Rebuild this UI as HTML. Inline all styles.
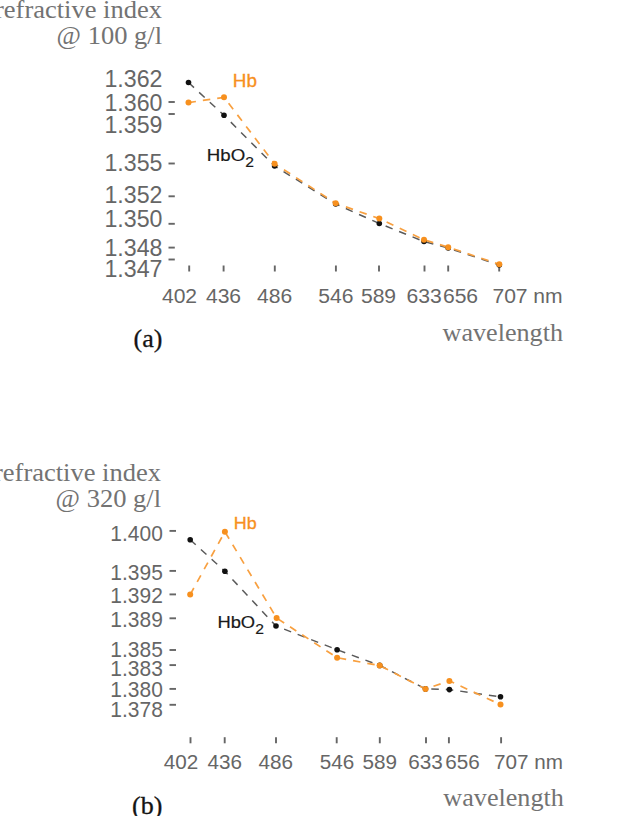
<!DOCTYPE html>
<html><head><meta charset="utf-8"><title>Refractive index vs wavelength</title>
<style>html,body{margin:0;padding:0;background:#fff;}svg{display:block;}</style></head>
<body>
<svg width="630" height="816" viewBox="0 0 630 816">
<rect width="630" height="816" fill="#fff"/>
<text transform="translate(162,17.5) scale(1.04,1)" font-family="'Liberation Serif', 'Times New Roman', serif" font-size="25.5" fill="#737373" text-anchor="end">refractive index</text>
<text transform="translate(162,44.3) scale(1.04,1)" font-family="'Liberation Serif', 'Times New Roman', serif" font-size="25.5" fill="#737373" text-anchor="end">@ 100 g/l</text>
<text transform="translate(162.5,86.5) scale(1.0,1)" font-family="'Liberation Sans', Arial, sans-serif" font-size="23.2" fill="#666666" text-anchor="end">1.362</text>
<text transform="translate(162.5,110.8) scale(1.0,1)" font-family="'Liberation Sans', Arial, sans-serif" font-size="23.2" fill="#666666" text-anchor="end">1.360</text>
<text transform="translate(162.5,132.5) scale(1.0,1)" font-family="'Liberation Sans', Arial, sans-serif" font-size="23.2" fill="#666666" text-anchor="end">1.359</text>
<text transform="translate(162.5,171.2) scale(1.0,1)" font-family="'Liberation Sans', Arial, sans-serif" font-size="23.2" fill="#666666" text-anchor="end">1.355</text>
<text transform="translate(162.5,202.5) scale(1.0,1)" font-family="'Liberation Sans', Arial, sans-serif" font-size="23.2" fill="#666666" text-anchor="end">1.352</text>
<text transform="translate(162.5,227.1) scale(1.0,1)" font-family="'Liberation Sans', Arial, sans-serif" font-size="23.2" fill="#666666" text-anchor="end">1.350</text>
<text transform="translate(162.5,256.2) scale(1.0,1)" font-family="'Liberation Sans', Arial, sans-serif" font-size="23.2" fill="#666666" text-anchor="end">1.348</text>
<text transform="translate(162.5,276.8) scale(1.0,1)" font-family="'Liberation Sans', Arial, sans-serif" font-size="23.2" fill="#666666" text-anchor="end">1.347</text>
<line x1="168.5" x2="174.8" y1="102" y2="102" stroke="#666666" stroke-width="1.9"/>
<line x1="168.5" x2="174.8" y1="114" y2="114" stroke="#666666" stroke-width="1.9"/>
<line x1="168.5" x2="174.8" y1="163.5" y2="163.5" stroke="#666666" stroke-width="1.9"/>
<line x1="168.5" x2="174.8" y1="196.3" y2="196.3" stroke="#666666" stroke-width="1.9"/>
<line x1="168.5" x2="174.8" y1="223.8" y2="223.8" stroke="#666666" stroke-width="1.9"/>
<line x1="168.5" x2="174.8" y1="247.6" y2="247.6" stroke="#666666" stroke-width="1.9"/>
<line x1="168.5" x2="174.8" y1="259.5" y2="259.5" stroke="#666666" stroke-width="1.9"/>
<line x1="189.2" x2="189.2" y1="265.5" y2="271.5" stroke="#666666" stroke-width="1.9"/>
<line x1="223.6" x2="223.6" y1="265.5" y2="271.5" stroke="#666666" stroke-width="1.9"/>
<line x1="274.8" x2="274.8" y1="265.5" y2="271.5" stroke="#666666" stroke-width="1.9"/>
<line x1="335.9" x2="335.9" y1="265.5" y2="271.5" stroke="#666666" stroke-width="1.9"/>
<line x1="379" x2="379" y1="265.5" y2="271.5" stroke="#666666" stroke-width="1.9"/>
<line x1="424.5" x2="424.5" y1="265.5" y2="271.5" stroke="#666666" stroke-width="1.9"/>
<line x1="448.2" x2="448.2" y1="265.5" y2="271.5" stroke="#666666" stroke-width="1.9"/>
<line x1="499.2" x2="499.2" y1="265.5" y2="271.5" stroke="#666666" stroke-width="1.9"/>
<text transform="translate(179.5,303.0) scale(1.03,1)" font-family="'Liberation Sans', Arial, sans-serif" font-size="20.5" fill="#666666" text-anchor="middle">402</text>
<text transform="translate(223.5,303.0) scale(1.03,1)" font-family="'Liberation Sans', Arial, sans-serif" font-size="20.5" fill="#666666" text-anchor="middle">436</text>
<text transform="translate(274.6,303.0) scale(1.03,1)" font-family="'Liberation Sans', Arial, sans-serif" font-size="20.5" fill="#666666" text-anchor="middle">486</text>
<text transform="translate(335.8,303.0) scale(1.03,1)" font-family="'Liberation Sans', Arial, sans-serif" font-size="20.5" fill="#666666" text-anchor="middle">546</text>
<text transform="translate(378.5,303.0) scale(1.03,1)" font-family="'Liberation Sans', Arial, sans-serif" font-size="20.5" fill="#666666" text-anchor="middle">589</text>
<text transform="translate(424.2,303.0) scale(1.03,1)" font-family="'Liberation Sans', Arial, sans-serif" font-size="20.5" fill="#666666" text-anchor="middle">633</text>
<text transform="translate(460.5,303.0) scale(1.03,1)" font-family="'Liberation Sans', Arial, sans-serif" font-size="20.5" fill="#666666" text-anchor="middle">656</text>
<text transform="translate(510,303.0) scale(1.03,1)" font-family="'Liberation Sans', Arial, sans-serif" font-size="20.5" fill="#666666" text-anchor="middle">707</text>
<text transform="translate(533.3,303.0) scale(1.03,1)" font-family="'Liberation Sans', Arial, sans-serif" font-size="20.5" fill="#666666">nm</text>
<text transform="translate(563,341) scale(1.025,1)" font-family="'Liberation Serif', 'Times New Roman', serif" font-size="25.5" fill="#737373" text-anchor="end">wavelength</text>
<text x="133.5" y="346.5" font-family="'Liberation Serif', 'Times New Roman', serif" font-size="26" fill="#141414" stroke="#141414" stroke-width="0.3">(a)</text>
<polyline points="188.5,82.5 224,115.3 274.6,166 335.7,204 379.3,223.5 424,241.5 448.2,248 499.3,265" fill="none" stroke="#5a5a5a" stroke-width="1.5" stroke-dasharray="7.5 7"/>
<polyline points="188.5,102.6 224,97.3 274.6,163.7 335.7,203.3 379.3,218.6 424,239.8 448.2,247.2 499.3,264.3" fill="none" stroke="#f8a040" stroke-width="1.7" stroke-dasharray="7.5 7"/>
<circle cx="188.5" cy="82.5" r="2.8" fill="#111"/>
<circle cx="224" cy="115.3" r="2.8" fill="#111"/>
<circle cx="274.6" cy="166" r="2.8" fill="#111"/>
<circle cx="335.7" cy="204" r="2.8" fill="#111"/>
<circle cx="379.3" cy="223.5" r="2.8" fill="#111"/>
<circle cx="424" cy="241.5" r="2.8" fill="#111"/>
<circle cx="448.2" cy="248" r="2.8" fill="#111"/>
<circle cx="499.3" cy="265" r="2.8" fill="#111"/>
<circle cx="188.5" cy="102.6" r="3.0" fill="#f7901e"/>
<circle cx="224" cy="97.3" r="3.0" fill="#f7901e"/>
<circle cx="274.6" cy="163.7" r="3.0" fill="#f7901e"/>
<circle cx="335.7" cy="203.3" r="3.0" fill="#f7901e"/>
<circle cx="379.3" cy="218.6" r="3.0" fill="#f7901e"/>
<circle cx="424" cy="239.8" r="3.0" fill="#f7901e"/>
<circle cx="448.2" cy="247.2" r="3.0" fill="#f7901e"/>
<circle cx="499.3" cy="264.3" r="3.0" fill="#f7901e"/>
<text transform="translate(232.8,86.5) scale(1.08,1)" font-family="'Liberation Sans', Arial, sans-serif" font-size="17.5" fill="#f7901e" stroke="#f7901e" stroke-width="0.3">Hb</text>
<text transform="translate(206.8,161.4) scale(1.08,1)" font-family="'Liberation Sans', Arial, sans-serif" font-size="17.3" fill="#1a1a1a" stroke="#1a1a1a" stroke-width="0.2">HbO<tspan font-size="14.5" dy="6">2</tspan></text>
<text transform="translate(161,480.6) scale(1.04,1)" font-family="'Liberation Serif', 'Times New Roman', serif" font-size="25.5" fill="#737373" text-anchor="end">refractive index</text>
<text transform="translate(161,506.6) scale(1.04,1)" font-family="'Liberation Serif', 'Times New Roman', serif" font-size="25.5" fill="#737373" text-anchor="end">@ 320 g/l</text>
<text transform="translate(162.8,540.7) scale(0.975,1)" font-family="'Liberation Sans', Arial, sans-serif" font-size="21.5" fill="#666666" text-anchor="end">1.400</text>
<text transform="translate(162.8,579.8) scale(0.975,1)" font-family="'Liberation Sans', Arial, sans-serif" font-size="21.5" fill="#666666" text-anchor="end">1.395</text>
<text transform="translate(162.8,603.1) scale(0.975,1)" font-family="'Liberation Sans', Arial, sans-serif" font-size="21.5" fill="#666666" text-anchor="end">1.392</text>
<text transform="translate(162.8,627.3) scale(0.975,1)" font-family="'Liberation Sans', Arial, sans-serif" font-size="21.5" fill="#666666" text-anchor="end">1.389</text>
<text transform="translate(162.8,656.7) scale(0.975,1)" font-family="'Liberation Sans', Arial, sans-serif" font-size="21.5" fill="#666666" text-anchor="end">1.385</text>
<text transform="translate(162.8,675.9) scale(0.975,1)" font-family="'Liberation Sans', Arial, sans-serif" font-size="21.5" fill="#666666" text-anchor="end">1.383</text>
<text transform="translate(162.8,697.1) scale(0.975,1)" font-family="'Liberation Sans', Arial, sans-serif" font-size="21.5" fill="#666666" text-anchor="end">1.380</text>
<text transform="translate(162.8,716.7) scale(0.975,1)" font-family="'Liberation Sans', Arial, sans-serif" font-size="21.5" fill="#666666" text-anchor="end">1.378</text>
<line x1="169.5" x2="176" y1="530.9" y2="530.9" stroke="#666666" stroke-width="1.9"/>
<line x1="169.5" x2="176" y1="570.9" y2="570.9" stroke="#666666" stroke-width="1.9"/>
<line x1="169.5" x2="176" y1="594.4" y2="594.4" stroke="#666666" stroke-width="1.9"/>
<line x1="169.5" x2="176" y1="618.3" y2="618.3" stroke="#666666" stroke-width="1.9"/>
<line x1="169.5" x2="176" y1="650" y2="650" stroke="#666666" stroke-width="1.9"/>
<line x1="169.5" x2="176" y1="665.1" y2="665.1" stroke="#666666" stroke-width="1.9"/>
<line x1="169.5" x2="176" y1="688.9" y2="688.9" stroke="#666666" stroke-width="1.9"/>
<line x1="169.5" x2="176" y1="704.8" y2="704.8" stroke="#666666" stroke-width="1.9"/>
<line x1="190.5" x2="190.5" y1="737.2" y2="743.3" stroke="#666666" stroke-width="1.9"/>
<line x1="224.7" x2="224.7" y1="737.2" y2="743.3" stroke="#666666" stroke-width="1.9"/>
<line x1="276" x2="276" y1="737.2" y2="743.3" stroke="#666666" stroke-width="1.9"/>
<line x1="336.7" x2="336.7" y1="737.2" y2="743.3" stroke="#666666" stroke-width="1.9"/>
<line x1="379.8" x2="379.8" y1="737.2" y2="743.3" stroke="#666666" stroke-width="1.9"/>
<line x1="426" x2="426" y1="737.2" y2="743.3" stroke="#666666" stroke-width="1.9"/>
<line x1="448.9" x2="448.9" y1="737.2" y2="743.3" stroke="#666666" stroke-width="1.9"/>
<line x1="501.1" x2="501.1" y1="737.2" y2="743.3" stroke="#666666" stroke-width="1.9"/>
<text transform="translate(180.9,769.4) scale(1.05,1)" font-family="'Liberation Sans', Arial, sans-serif" font-size="19.7" fill="#666666" text-anchor="middle">402</text>
<text transform="translate(224.7,769.4) scale(1.05,1)" font-family="'Liberation Sans', Arial, sans-serif" font-size="19.7" fill="#666666" text-anchor="middle">436</text>
<text transform="translate(275.8,769.4) scale(1.05,1)" font-family="'Liberation Sans', Arial, sans-serif" font-size="19.7" fill="#666666" text-anchor="middle">486</text>
<text transform="translate(337,769.4) scale(1.05,1)" font-family="'Liberation Sans', Arial, sans-serif" font-size="19.7" fill="#666666" text-anchor="middle">546</text>
<text transform="translate(379.8,769.4) scale(1.05,1)" font-family="'Liberation Sans', Arial, sans-serif" font-size="19.7" fill="#666666" text-anchor="middle">589</text>
<text transform="translate(425.5,769.4) scale(1.05,1)" font-family="'Liberation Sans', Arial, sans-serif" font-size="19.7" fill="#666666" text-anchor="middle">633</text>
<text transform="translate(462.6,769.4) scale(1.05,1)" font-family="'Liberation Sans', Arial, sans-serif" font-size="19.7" fill="#666666" text-anchor="middle">656</text>
<text transform="translate(511.3,769.4) scale(1.05,1)" font-family="'Liberation Sans', Arial, sans-serif" font-size="19.7" fill="#666666" text-anchor="middle">707</text>
<text transform="translate(534.2,769.4) scale(1.05,1)" font-family="'Liberation Sans', Arial, sans-serif" font-size="19.7" fill="#666666">nm</text>
<text transform="translate(563.8,806.3) scale(1.025,1)" font-family="'Liberation Serif', 'Times New Roman', serif" font-size="25.5" fill="#737373" text-anchor="end">wavelength</text>
<text x="132" y="813.8" font-family="'Liberation Serif', 'Times New Roman', serif" font-size="26" fill="#141414" stroke="#141414" stroke-width="0.3">(b)</text>
<polyline points="190.2,539.7 224.9,571.3 276,626 337.1,649.7 379.7,665.4 425.5,688.9 449.4,689.6 500.5,696.8" fill="none" stroke="#5a5a5a" stroke-width="1.5" stroke-dasharray="7.5 7"/>
<polyline points="190.2,594.6 224.9,531.7 276.6,618 337.1,657.7 379.7,665.6 425.5,689 449.4,680.9 500.5,704.6" fill="none" stroke="#f8a040" stroke-width="1.7" stroke-dasharray="7.5 7"/>
<circle cx="190.2" cy="539.7" r="2.8" fill="#111"/>
<circle cx="224.9" cy="571.3" r="2.8" fill="#111"/>
<circle cx="276" cy="626" r="2.8" fill="#111"/>
<circle cx="337.1" cy="649.7" r="2.8" fill="#111"/>
<circle cx="379.7" cy="665.4" r="2.8" fill="#111"/>
<circle cx="425.5" cy="688.9" r="2.8" fill="#111"/>
<circle cx="449.4" cy="689.6" r="2.8" fill="#111"/>
<circle cx="500.5" cy="696.8" r="2.8" fill="#111"/>
<circle cx="190.2" cy="594.6" r="3.0" fill="#f7901e"/>
<circle cx="224.9" cy="531.7" r="3.0" fill="#f7901e"/>
<circle cx="276.6" cy="618" r="3.0" fill="#f7901e"/>
<circle cx="337.1" cy="657.7" r="3.0" fill="#f7901e"/>
<circle cx="379.7" cy="665.6" r="3.0" fill="#f7901e"/>
<circle cx="425.5" cy="689" r="3.0" fill="#f7901e"/>
<circle cx="449.4" cy="680.9" r="3.0" fill="#f7901e"/>
<circle cx="500.5" cy="704.6" r="3.0" fill="#f7901e"/>
<text transform="translate(233.8,529) scale(1.12,1)" font-family="'Liberation Sans', Arial, sans-serif" font-size="16" fill="#f7901e" stroke="#f7901e" stroke-width="0.3">Hb</text>
<text transform="translate(217.4,628) scale(1.12,1)" font-family="'Liberation Sans', Arial, sans-serif" font-size="16.4" fill="#1a1a1a" stroke="#1a1a1a" stroke-width="0.2">HbO<tspan font-size="14" dy="5.5">2</tspan></text>
</svg>
</body></html>
